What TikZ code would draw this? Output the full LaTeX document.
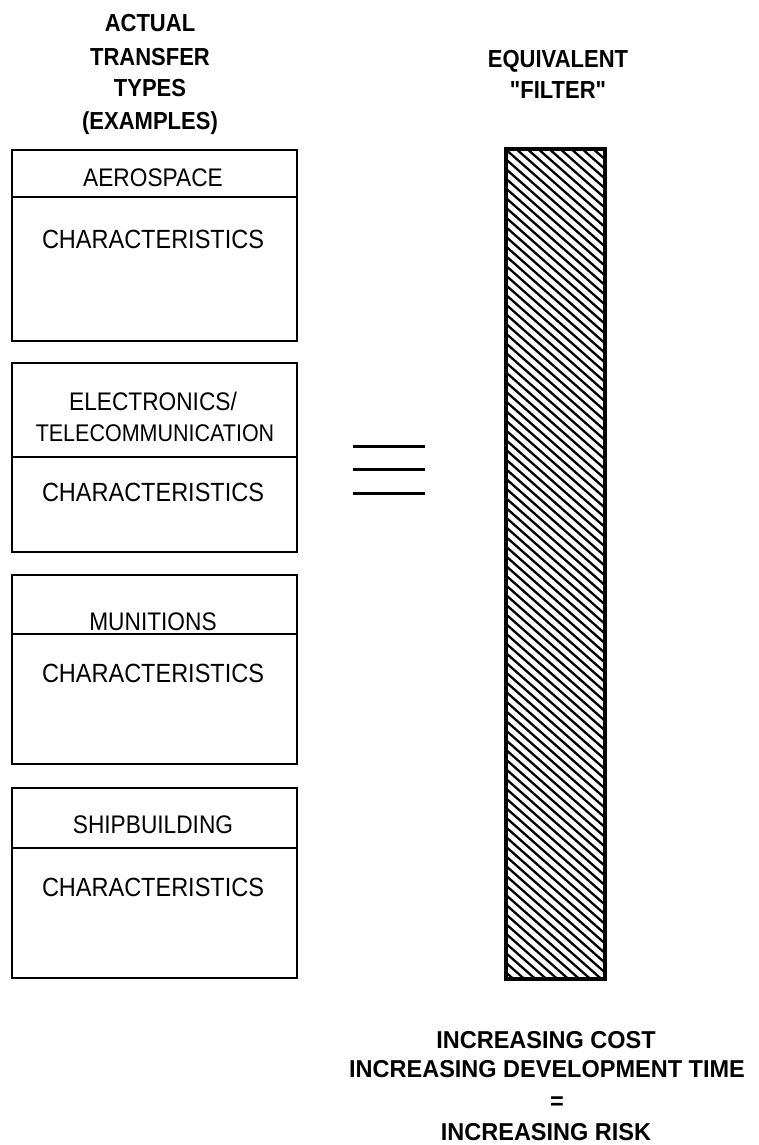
\documentclass[tikz,border=0pt]{standalone}
\usepackage{fontspec}
\setmainfont{Liberation Sans}[Ligatures=TeXOff]
% slightly condensed lettering, as in the original typesetting
\newcommand{\tallA}[1]{\scalebox{1}[1.12]{#1}}
\newcommand{\tallB}[1]{\scalebox{1}[1.04]{#1}}
\begin{document}
\begin{tikzpicture}[x=1pt,y=-1pt,
  panel/.style={draw=black, line width=2.2pt, minimum width=285pt, inner sep=0pt},
  lbl/.style={font=\fontsize{22.7}{26}\selectfont, anchor=base, inner sep=0pt},
  chr/.style={font=\fontsize{23.5}{26}\selectfont, anchor=base, inner sep=0pt},
  head/.style={font=\bfseries\fontsize{22}{26}\selectfont, anchor=base, inner sep=0pt},
  foot/.style={font=\bfseries\fontsize{23.5}{28}\selectfont, anchor=base, inner sep=0pt},
  hatchline/.style={line width=2.3pt},
  eqline/.style={line width=3pt}]
\useasboundingbox (0,0) rectangle (758,1145);

% column headings
\node[head] (h1) at (150,32) {\tallA{ACTUAL}};
\node[head] (h2) at (150,65.5) {\tallA{TRANSFER}};
\node[head] (h3) at (150,97) {\tallA{TYPES}};
\node[head] (h4) at (150,129.5) {\tallA{(EXAMPLES)}};
\node[head] (f1) at (558,68) {\tallA{EQUIVALENT}};
\node[head] (f2) at (558,99) {\tallA{"FILTER"}};

% transfer type panels: title cell + characteristics cell
\node[panel, minimum height=47pt] (aeroH) at (154.5,173.5) {};
\node[panel, minimum height=144pt] (aeroB) at (154.5,269) {};
\node[lbl] (aeroT) at (153,186) {\tallA{AEROSPACE}};
\node[chr] (aeroC) at (153,248) {\tallA{CHARACTERISTICS}};

\node[panel, minimum height=94pt] (elecH) at (154.5,410) {};
\node[panel, minimum height=95pt] (elecB) at (154.5,504.5) {};
\node[lbl] (elecT1) at (153,410) {\tallA{ELECTRONICS/}};
\node[lbl, font=\fontsize{21.5}{26}\selectfont] (elecT2) at (155,441) {\tallA{TELECOMMUNICATION}};
\node[chr] (elecC) at (153,501) {\tallA{CHARACTERISTICS}};

\node[panel, minimum height=59pt] (munH) at (154.5,604.5) {};
\node[panel, minimum height=130pt] (munB) at (154.5,699) {};
\node[lbl] (munT) at (153,630) {\tallA{MUNITIONS}};
\node[chr] (munC) at (153,682) {\tallA{CHARACTERISTICS}};

\node[panel, minimum height=60pt] (shipH) at (154.5,818) {};
\node[panel, minimum height=130pt] (shipB) at (154.5,913) {};
\node[lbl] (shipT) at (153,833) {\tallA{SHIPBUILDING}};
\node[chr] (shipC) at (153,896) {\tallA{CHARACTERISTICS}};

% equivalence sign
\coordinate (e1a) at (353,446); \coordinate (e1b) at (425,446);
\coordinate (e2a) at (353,469); \coordinate (e2b) at (425,469);
\coordinate (e3a) at (353,493); \coordinate (e3b) at (425,493);
\draw[eqline] (e1a) -- (e1b);
\draw[eqline] (e2a) -- (e2b);
\draw[eqline] (e3a) -- (e3b);

% hatched filter bar
\node[minimum width=99pt, minimum height=830pt, inner sep=0pt] (filter) at (555.5,564) {};
\begin{scope}
  \clip (filter.south west) rectangle (filter.north east);
  \foreach \c in {-462,-451,...,620}
    \draw[hatchline] (\c,140) -- ++(1000,880);
\end{scope}
\draw[line width=4pt] (filter.south west) rectangle (filter.north east);

% conclusion
\node[foot] (c1) at (546,1048.5) {\tallB{INCREASING COST}};
\node[foot] (c2) at (547,1077.5) {\tallB{INCREASING DEVELOPMENT TIME}};
\node[foot] (c3) at (557,1109) {\tallB{=}};
\node[foot] (c4) at (546,1140.5) {\tallB{INCREASING RISK}};
\end{tikzpicture}
\end{document}
